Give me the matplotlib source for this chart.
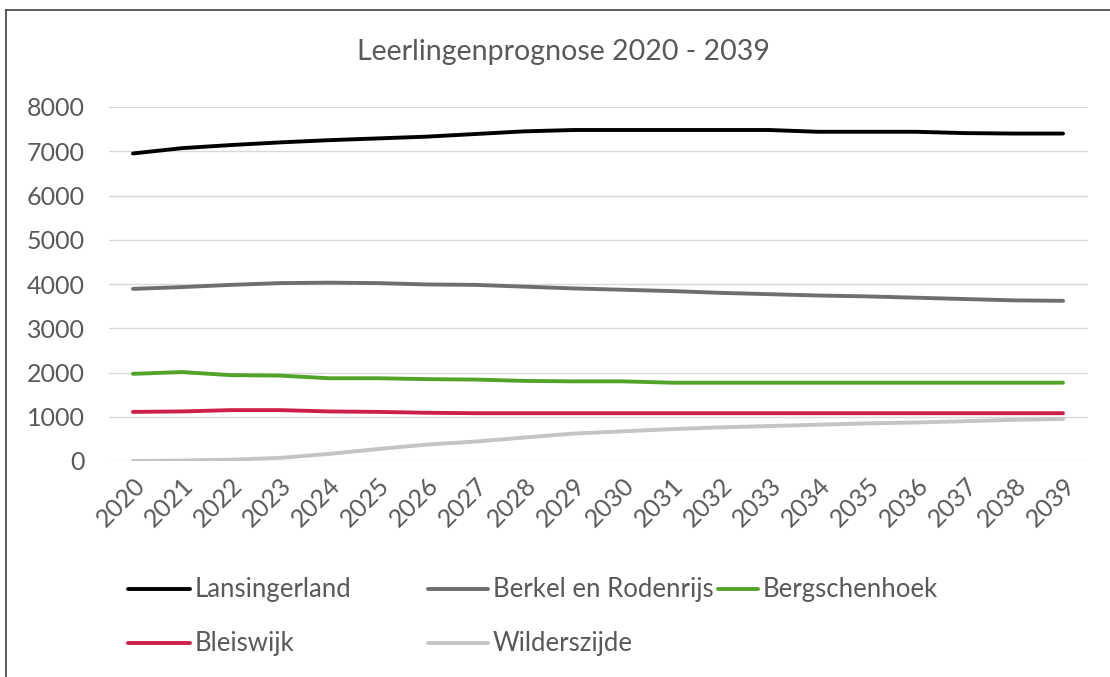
import numpy as np
import matplotlib.pyplot as plt
from matplotlib.lines import Line2D

years = [str(y) for y in range(2020, 2040)]

lansingerland = [6950, 7070, 7140, 7200, 7250, 7290, 7330, 7390, 7450, 7480,
                 7480, 7480, 7480, 7480, 7440, 7440, 7440, 7410, 7400, 7400]
berkel = [3890, 3930, 3980, 4020, 4030, 4020, 3990, 3980, 3940, 3900,
          3870, 3840, 3800, 3770, 3740, 3720, 3690, 3660, 3630, 3620]
bergschenhoek = [1970, 2010, 1940, 1930, 1870, 1870, 1850, 1840, 1810, 1800,
                 1800, 1770, 1770, 1770, 1770, 1770, 1770, 1770, 1770, 1770]
bleiswijk = [1110, 1120, 1150, 1150, 1120, 1110, 1090, 1080, 1080, 1080,
             1080, 1080, 1080, 1080, 1080, 1080, 1080, 1080, 1080, 1080]
wilderszijde = [0, 10, 30, 70, 160, 270, 370, 440, 530, 620,
                670, 720, 760, 790, 820, 850, 870, 900, 930, 950]

namen = ["Lansingerland", "Berkel en Rodenrijs", "Bergschenhoek", "Bleiswijk", "Wilderszijde"]
kleuren = ["#000000", "#6f6f6f", "#52a32a", "#cc1f48", "#c4c4c4"]

plt.rcParams['font.family'] = ['Lato', 'DejaVu Sans']
tekst = "#595959"

fig = plt.figure(figsize=(11.1, 6.77), dpi=100)
ax = fig.add_axes([108.5 / 1110, 1 - 461 / 677, 979 / 1110, 354 / 677])

x = np.arange(len(years))
lijnen = []
for reeks, naam, kleur in zip([lansingerland, berkel, bergschenhoek, bleiswijk, wilderszijde], namen, kleuren):
    l, = ax.plot(x, reeks, color=kleur, lw=2.8, solid_capstyle='round', label=naam)
    lijnen.append(l)

ax.set_xlim(-0.5, len(years) - 0.5)
ax.set_ylim(0, 8000)
ax.set_yticks(range(0, 8001, 1000))
ax.set_xticks(x)
ax.set_xticklabels(years, rotation=45, ha='right', rotation_mode='anchor')
ax.tick_params(axis='both', length=0, labelsize=18, colors=tekst)
ax.tick_params(axis='y', pad=17)
ax.tick_params(axis='x', pad=9)
ax.grid(axis='y', color='#d9d9d9', lw=1)
ax.set_axisbelow(True)
for s in ax.spines.values():
    s.set_visible(False)

fig.text(563 / 1110, 1 - 52 / 677, "Leerlingenprognose 2020 - 2039",
         ha='center', va='center', fontsize=20.5, color=tekst)

# legenda, handmatig geplaatst
posities = [(128, 589), (428, 589), (718, 589), (128, 643), (428, 643)]
lengtes = [62, 60, 40, 62, 60]
for l, (px, py), lengte in zip(lijnen, posities, lengtes):
    fy = 1 - py / 677
    fig.add_artist(Line2D([px / 1110, (px + lengte) / 1110], [fy, fy],
                          color=l.get_color(), lw=2.8, solid_capstyle='round'))
    fig.text((px + lengte + 5) / 1110, fy, l.get_label(), ha='left', va='center',
             fontsize=18.5, color=tekst)

# kader
fig.add_artist(Line2D([6 / 1110, 6 / 1110], [0, 1 - 10 / 677], color='#404040', lw=1.2))
fig.add_artist(Line2D([6 / 1110, 1], [1 - 10 / 677, 1 - 10 / 677], color='#404040', lw=1.2))

fig.savefig("out.png", dpi=100)
